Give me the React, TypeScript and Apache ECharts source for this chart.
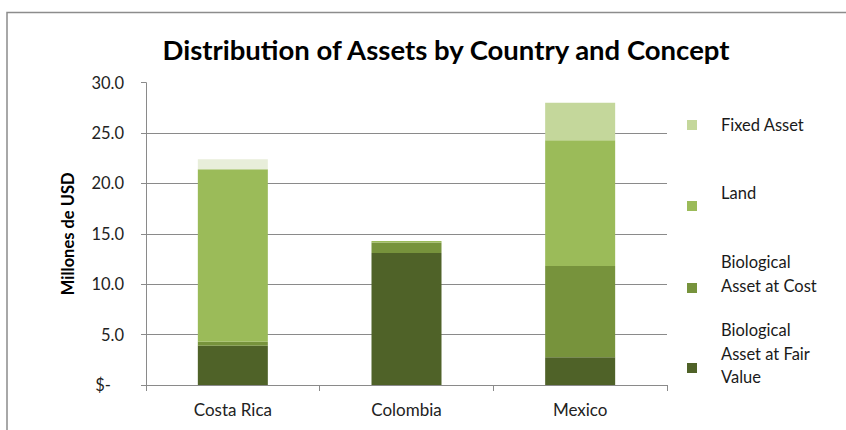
import React, { useEffect, useRef } from "react";
import * as echarts from "echarts";

const categories = ["Costa Rica", "Colombia", "Mexico"];
const seriesNames = [
  "Biological Asset at Fair Value",
  "Biological Asset at Cost",
  "Land",
  "Fixed Asset",
];
const fairValue = [3.9, 13.1, 2.75];
const atCost = [0.4, 1.05, 9.05];
const land = [17.1, 0.15, 12.5];
const fixedAsset = [1.0, 0, 3.7];
const yTicks = [0, 5, 10, 15, 20, 25, 30];

const legendLabels = [
  "Biological\nAsset at Fair\nValue",
  "Biological\nAsset at Cost",
  "Land",
  "Fixed Asset",
];

const colors = ["#4F6228", "#77933C", "#9BBB59", "#C4D79B"];
const paleFixed = "#E8EEDA";
const FONT = "Lato, 'Open Sans', sans-serif";

// layout of the hand-drawn legend (top to bottom is reverse series order)
const legendSquareY = [368, 288, 206, 125];
const legendTextY = [330, 262, 193, 125];

export default function App() {
  const ref = useRef<HTMLDivElement>(null);
  useEffect(() => {
    if (!ref.current) return;
    const chart = echarts.init(ref.current, null, { renderer: "svg" });
    const values = [fairValue, atCost, land, fixedAsset];
    const series = values.map((arr, si) => ({
      name: seriesNames[si],
      type: "bar",
      stack: "total",
      barWidth: 70,
      itemStyle: { color: colors[si] },
      data: arr.map((v, ci) =>
        si === 3 && ci === 0 ? { value: v, itemStyle: { color: paleFixed } } : v
      ),
    }));
    const legendGraphics: any[] = [];
    seriesNames.forEach((_, i) => {
      legendGraphics.push({
        type: "rect",
        shape: { x: 687, y: legendSquareY[i] - 5, width: 10, height: 10 },
        style: { fill: colors[i] },
      });
      legendGraphics.push({
        type: "text",
        x: 721,
        y: legendTextY[i] - 11.75,
        style: {
          text: legendLabels[i],
          font: `16.5px ${FONT}`,
          fill: "#1a1a1a",
          lineHeight: 23.5,
          verticalAlign: "top",
        },
      });
    });
    chart.setOption({
      animation: false,
      backgroundColor: "#ffffff",
      textStyle: { fontFamily: FONT },
      title: {
        text: "Distribution of Assets by Country and Concept",
        left: 441,
        top: 30,
        textAlign: "center",
        textStyle: { fontFamily: FONT, fontWeight: "bold", fontSize: 27.5, color: "#000" },
      },
      grid: { left: 146, right: 179, top: 82.7, bottom: 45 },
      xAxis: {
        type: "category",
        data: categories,
        axisLine: { lineStyle: { color: "#8a8a8a", width: 1 } },
        axisTick: { show: true, length: 6, lineStyle: { color: "#8a8a8a" } },
        axisLabel: { color: "#222", fontSize: 17, margin: 16, fontFamily: FONT },
      },
      yAxis: {
        type: "value",
        min: yTicks[0],
        max: yTicks[yTicks.length - 1],
        interval: yTicks[1] - yTicks[0],
        name: "Millones de USD",
        nameLocation: "middle",
        nameGap: 70,
        nameTextStyle: { fontWeight: "bold", fontSize: 16.5, color: "#000", fontFamily: FONT },
        axisLine: { show: true, lineStyle: { color: "#8a8a8a" } },
        axisTick: { show: true, length: 5, lineStyle: { color: "#8a8a8a" } },
        axisLabel: {
          color: "#222",
          fontSize: 16.5,
          margin: 22,
          fontFamily: FONT,
          formatter: (v: number) => (v === 0 ? "{z|$-}" : v.toFixed(1)),
          rich: { z: { fontSize: 16.5, color: "#222", padding: [0, 13, 0, 0], fontFamily: FONT } },
        },
        splitLine: {
          show: true,
          lineStyle: {
            color: yTicks.map((t, i) => (i === yTicks.length - 1 ? "rgba(0,0,0,0)" : "#8a8a8a")),
            width: 1,
          },
        },
      },
      series,
      graphic: [
        {
          type: "rect",
          shape: { x: 7, y: 12.5, width: 900, height: 500 },
          style: { fill: "none", stroke: "#8c8c8c", lineWidth: 1.5 },
          z: 100,
        },
        ...legendGraphics,
      ],
    });
    return () => chart.dispose();
  }, []);
  return (
    <div
      ref={ref}
      style={{ position: "fixed", left: 0, top: 0, width: 846, height: 430 }}
    />
  );
}
